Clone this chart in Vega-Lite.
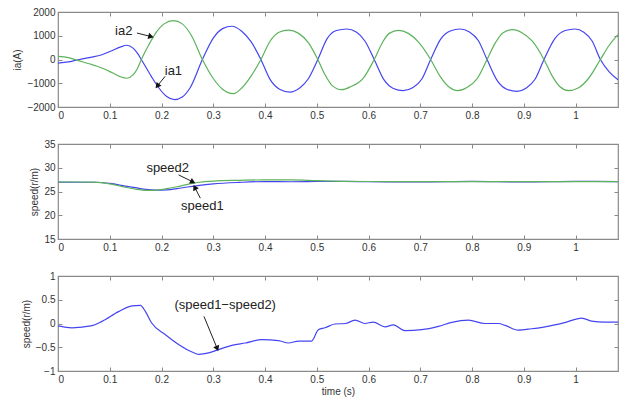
{
  "$schema": "https://vega.github.io/schema/vega-lite/v6.json",
  "background": "white",
  "padding": {"left": 12, "top": 6, "right": 5, "bottom": 1},
  "spacing": 37,
  "bounds": "flush",
  "config": {
    "font": "Liberation Sans",
    "view": {"stroke": "#8a8a8a", "strokeWidth": 1.2},
    "axis": {"domain": false, "grid": false, "tickColor": "#8a8a8a", "tickSize": -4, "tickWidth": 1, "labelFontSize": 10, "labelColor": "#333333", "titleFontSize": 10, "titleFontWeight": "normal", "titleColor": "#333333", "labelPadding": 7, "titlePadding": 4}
  },
  "datasets": {
    "ia": [
      {"s":"ia1","t":0,"v":-150},{"s":"ia1","t":0.02,"v":-100},{"s":"ia1","t":0.035,"v":-30},{"s":"ia1","t":0.06,"v":80},{"s":"ia1","t":0.085,"v":200},{"s":"ia1","t":0.105,"v":380},{"s":"ia1","t":0.12,"v":520},{"s":"ia1","t":0.133,"v":600},{"s":"ia1","t":0.145,"v":480},{"s":"ia1","t":0.153,"v":280},{"s":"ia1","t":0.161,"v":0},{"s":"ia1","t":0.18,"v":-700},{"s":"ia1","t":0.195,"v":-1200},{"s":"ia1","t":0.21,"v":-1560},{"s":"ia1","t":0.225,"v":-1690},{"s":"ia1","t":0.24,"v":-1580},{"s":"ia1","t":0.255,"v":-1200},{"s":"ia1","t":0.279,"v":0},{"s":"ia1","t":0.3,"v":900},{"s":"ia1","t":0.318,"v":1300},{"s":"ia1","t":0.336,"v":1400},{"s":"ia1","t":0.355,"v":1190},{"s":"ia1","t":0.373,"v":750},{"s":"ia1","t":0.392,"v":0},{"s":"ia1","t":0.41,"v":-850},{"s":"ia1","t":0.428,"v":-1250},{"s":"ia1","t":0.448,"v":-1370},{"s":"ia1","t":0.467,"v":-1200},{"s":"ia1","t":0.484,"v":-800},{"s":"ia1","t":0.502,"v":0},{"s":"ia1","t":0.52,"v":880},{"s":"ia1","t":0.538,"v":1220},{"s":"ia1","t":0.558,"v":1285},{"s":"ia1","t":0.577,"v":1150},{"s":"ia1","t":0.593,"v":780},{"s":"ia1","t":0.611,"v":0},{"s":"ia1","t":0.63,"v":-860},{"s":"ia1","t":0.648,"v":-1220},{"s":"ia1","t":0.667,"v":-1310},{"s":"ia1","t":0.686,"v":-1180},{"s":"ia1","t":0.703,"v":-820},{"s":"ia1","t":0.72,"v":0},{"s":"ia1","t":0.74,"v":880},{"s":"ia1","t":0.758,"v":1200},{"s":"ia1","t":0.777,"v":1285},{"s":"ia1","t":0.795,"v":1160},{"s":"ia1","t":0.812,"v":800},{"s":"ia1","t":0.829,"v":0},{"s":"ia1","t":0.849,"v":-900},{"s":"ia1","t":0.867,"v":-1250},{"s":"ia1","t":0.887,"v":-1340},{"s":"ia1","t":0.905,"v":-1200},{"s":"ia1","t":0.922,"v":-820},{"s":"ia1","t":0.939,"v":0},{"s":"ia1","t":0.96,"v":880},{"s":"ia1","t":0.98,"v":1220},{"s":"ia1","t":0.999,"v":1285},{"s":"ia1","t":1.016,"v":1150},{"s":"ia1","t":1.032,"v":780},{"s":"ia1","t":1.048,"v":0},{"s":"ia1","t":1.065,"v":-520},{"s":"ia1","t":1.082,"v":-850},
      {"s":"ia2","t":0,"v":135},{"s":"ia2","t":0.02,"v":80},{"s":"ia2","t":0.04,"v":-50},{"s":"ia2","t":0.06,"v":-180},{"s":"ia2","t":0.085,"v":-360},{"s":"ia2","t":0.105,"v":-560},{"s":"ia2","t":0.12,"v":-720},{"s":"ia2","t":0.133,"v":-790},{"s":"ia2","t":0.145,"v":-650},{"s":"ia2","t":0.153,"v":-400},{"s":"ia2","t":0.161,"v":0},{"s":"ia2","t":0.175,"v":600},{"s":"ia2","t":0.19,"v":1150},{"s":"ia2","t":0.205,"v":1500},{"s":"ia2","t":0.223,"v":1635},{"s":"ia2","t":0.24,"v":1500},{"s":"ia2","t":0.258,"v":1000},{"s":"ia2","t":0.279,"v":0},{"s":"ia2","t":0.3,"v":-800},{"s":"ia2","t":0.318,"v":-1250},{"s":"ia2","t":0.339,"v":-1440},{"s":"ia2","t":0.355,"v":-1200},{"s":"ia2","t":0.373,"v":-700},{"s":"ia2","t":0.392,"v":0},{"s":"ia2","t":0.41,"v":780},{"s":"ia2","t":0.427,"v":1150},{"s":"ia2","t":0.445,"v":1240},{"s":"ia2","t":0.465,"v":1100},{"s":"ia2","t":0.484,"v":700},{"s":"ia2","t":0.502,"v":0},{"s":"ia2","t":0.515,"v":-600},{"s":"ia2","t":0.53,"v":-1100},{"s":"ia2","t":0.548,"v":-1270},{"s":"ia2","t":0.565,"v":-1150},{"s":"ia2","t":0.59,"v":-780},{"s":"ia2","t":0.611,"v":0},{"s":"ia2","t":0.628,"v":760},{"s":"ia2","t":0.64,"v":1100},{"s":"ia2","t":0.658,"v":1230},{"s":"ia2","t":0.677,"v":1100},{"s":"ia2","t":0.697,"v":720},{"s":"ia2","t":0.72,"v":0},{"s":"ia2","t":0.738,"v":-700},{"s":"ia2","t":0.755,"v":-1150},{"s":"ia2","t":0.772,"v":-1310},{"s":"ia2","t":0.79,"v":-1180},{"s":"ia2","t":0.81,"v":-800},{"s":"ia2","t":0.829,"v":0},{"s":"ia2","t":0.845,"v":700},{"s":"ia2","t":0.86,"v":1130},{"s":"ia2","t":0.878,"v":1255},{"s":"ia2","t":0.897,"v":1120},{"s":"ia2","t":0.917,"v":760},{"s":"ia2","t":0.939,"v":0},{"s":"ia2","t":0.955,"v":-700},{"s":"ia2","t":0.97,"v":-1150},{"s":"ia2","t":0.986,"v":-1310},{"s":"ia2","t":1.005,"v":-1200},{"s":"ia2","t":1.025,"v":-800},{"s":"ia2","t":1.048,"v":0},{"s":"ia2","t":1.065,"v":600},{"s":"ia2","t":1.082,"v":1045}
    ],
    "speed": [
      {"s":"speed1","t":0,"v":26.97},{"s":"speed1","t":0.05,"v":26.95},{"s":"speed1","t":0.07,"v":26.95},{"s":"speed1","t":0.1,"v":26.7},{"s":"speed1","t":0.13,"v":26.15},{"s":"speed1","t":0.15,"v":25.8},{"s":"speed1","t":0.17,"v":25.45},{"s":"speed1","t":0.19,"v":25.3},{"s":"speed1","t":0.21,"v":25.35},{"s":"speed1","t":0.23,"v":25.6},{"s":"speed1","t":0.25,"v":25.95},{"s":"speed1","t":0.27,"v":26.25},{"s":"speed1","t":0.3,"v":26.6},{"s":"speed1","t":0.35,"v":26.92},{"s":"speed1","t":0.4,"v":27.1},{"s":"speed1","t":0.45,"v":27.05},{"s":"speed1","t":0.5,"v":27.1},{"s":"speed1","t":0.55,"v":27.12},{"s":"speed1","t":0.6,"v":27.08},{"s":"speed1","t":0.7,"v":27.0},{"s":"speed1","t":0.8,"v":27.12},{"s":"speed1","t":0.9,"v":27.0},{"s":"speed1","t":1.0,"v":27.12},{"s":"speed1","t":1.082,"v":27.1},
      {"s":"speed2","t":0,"v":27.0},{"s":"speed2","t":0.05,"v":27.0},{"s":"speed2","t":0.07,"v":26.98},{"s":"speed2","t":0.1,"v":26.6},{"s":"speed2","t":0.13,"v":25.9},{"s":"speed2","t":0.15,"v":25.5},{"s":"speed2","t":0.17,"v":25.25},{"s":"speed2","t":0.19,"v":25.3},{"s":"speed2","t":0.21,"v":25.6},{"s":"speed2","t":0.23,"v":26.0},{"s":"speed2","t":0.25,"v":26.5},{"s":"speed2","t":0.27,"v":26.9},{"s":"speed2","t":0.3,"v":27.2},{"s":"speed2","t":0.35,"v":27.35},{"s":"speed2","t":0.4,"v":27.45},{"s":"speed2","t":0.45,"v":27.45},{"s":"speed2","t":0.5,"v":27.3},{"s":"speed2","t":0.55,"v":27.15},{"s":"speed2","t":0.6,"v":27.1},{"s":"speed2","t":0.7,"v":27.1},{"s":"speed2","t":0.8,"v":27.1},{"s":"speed2","t":0.9,"v":27.1},{"s":"speed2","t":1.0,"v":27.1},{"s":"speed2","t":1.082,"v":27.1}
    ],
    "diff": [
      {"t":0,"v":-0.05},{"t":0.027,"v":-0.09},{"t":0.066,"v":-0.045},{"t":0.085,"v":0.045},{"t":0.117,"v":0.25},{"t":0.143,"v":0.37},{"t":0.159,"v":0.38},{"t":0.169,"v":0.25},{"t":0.181,"v":0.01},{"t":0.207,"v":-0.23},{"t":0.233,"v":-0.44},{"t":0.259,"v":-0.6},{"t":0.272,"v":-0.65},{"t":0.291,"v":-0.62},{"t":0.31,"v":-0.55},{"t":0.336,"v":-0.46},{"t":0.362,"v":-0.41},{"t":0.394,"v":-0.34},{"t":0.426,"v":-0.36},{"t":0.445,"v":-0.41},{"t":0.465,"v":-0.37},{"t":0.49,"v":-0.37},{"t":0.503,"v":-0.13},{"t":0.516,"v":-0.09},{"t":0.535,"v":-0.01},{"t":0.555,"v":0.0},{"t":0.574,"v":0.07},{"t":0.593,"v":0.0},{"t":0.609,"v":0.03},{"t":0.632,"v":-0.07},{"t":0.648,"v":-0.03},{"t":0.67,"v":-0.15},{"t":0.703,"v":-0.13},{"t":0.735,"v":-0.06},{"t":0.761,"v":0.025},{"t":0.793,"v":0.07},{"t":0.825,"v":0.0},{"t":0.851,"v":0.0},{"t":0.864,"v":-0.04},{"t":0.889,"v":-0.14},{"t":0.915,"v":-0.11},{"t":0.941,"v":-0.07},{"t":0.979,"v":0.02},{"t":1.012,"v":0.115},{"t":1.031,"v":0.05},{"t":1.056,"v":0.03},{"t":1.082,"v":0.03}
    ],
    "notes": [
      {"p":"ia","label":"ia2","t":0.127,"v":1200,"t1":0.1525,"v1":1115,"t2":0.178,"v2":975},
      {"p":"ia","label":"ia1","t":0.223,"v":-470,"t1":0.207,"v1":-707,"t2":0.193,"v2":-1086},
      {"p":"sp","label":"speed2","t":0.212,"v":29.9,"t1":0.233,"v1":28.5,"t2":0.259,"v2":27.1},
      {"p":"sp","label":"speed1","t":0.279,"v":22.0,"t1":0.275,"v1":23.6,"t2":0.265,"v2":25.7},
      {"p":"df","label":"(speed1−speed2)","t":0.323,"v":0.39,"t1":0.282,"v1":0.15,"t2":0.307,"v2":-0.51}
    ]
  },
  "vconcat": [
    {
      "width": 560, "height": 95,
      "resolve": {"axis": {"x": "independent", "y": "independent"}},
      "layer": [
        {
          "data": {"name": "ia"},
          "mark": {"type": "line", "strokeWidth": 1.2, "interpolate": "monotone"},
          "encoding": {
            "x": {"field": "t", "type": "quantitative", "scale": {"domain": [0, 1.082], "nice": false}, "axis": {"values": [0,0.1,0.2,0.3,0.4,0.5,0.6,0.7,0.8,0.9,1], "format": "~g", "title": null}},
            "y": {"field": "v", "type": "quantitative", "scale": {"domain": [-2000, 2000], "nice": false}, "axis": {"values": [-2000,-1000,0,1000,2000], "format": "d", "title": "ia(A)"}},
            "color": {"field": "s", "type": "nominal", "scale": {"domain": ["ia1","ia2"], "range": ["#4545f0","#5cb35c"]}, "legend": null}
          }
        },
        {
          "data": {"name": "ia"},
          "mark": {"type": "point", "opacity": 0},
          "encoding": {
            "x": {"field": "t", "type": "quantitative", "axis": {"orient": "top", "labels": false, "values": [0,0.1,0.2,0.3,0.4,0.5,0.6,0.7,0.8,0.9,1], "title": null}},
            "y": {"field": "v", "type": "quantitative", "axis": {"orient": "right", "labels": false, "values": [-2000,-1000,0,1000,2000], "title": null}}
          }
        },
        {
          "data": {"name": "notes"},
          "transform": [{"filter": "datum.p == 'ia'"}],
          "mark": {"type": "text", "fontSize": 13, "color": "#222222"},
          "encoding": {"x": {"field": "t", "type": "quantitative", "axis": null}, "y": {"field": "v", "type": "quantitative", "axis": null}, "text": {"field": "label"}}
        },
        {
          "data": {"name": "notes"},
          "transform": [{"filter": "datum.p == 'ia'"}],
          "mark": {"type": "rule", "color": "#222222", "strokeWidth": 1},
          "encoding": {"x": {"field": "t1", "type": "quantitative", "axis": null}, "y": {"field": "v1", "type": "quantitative", "axis": null}, "x2": {"field": "t2"}, "y2": {"field": "v2"}}
        },
        {
          "data": {"name": "notes"},
          "transform": [{"filter": "datum.label == 'ia2'"}],
          "mark": {"type": "point", "shape": "triangle", "filled": true, "size": 40, "angle": 104, "color": "#111111", "opacity": 1},
          "encoding": {"x": {"field": "t2", "type": "quantitative", "axis": null}, "y": {"field": "v2", "type": "quantitative", "axis": null}}
        },
        {
          "data": {"name": "notes"},
          "transform": [{"filter": "datum.label == 'ia1'"}],
          "mark": {"type": "point", "shape": "triangle", "filled": true, "size": 40, "angle": 219, "color": "#111111", "opacity": 1},
          "encoding": {"x": {"field": "t2", "type": "quantitative", "axis": null}, "y": {"field": "v2", "type": "quantitative", "axis": null}}
        }
      ]
    },
    {
      "width": 560, "height": 95,
      "resolve": {"axis": {"x": "independent", "y": "independent"}},
      "layer": [
        {
          "data": {"name": "speed"},
          "mark": {"type": "line", "strokeWidth": 1.2, "interpolate": "monotone"},
          "encoding": {
            "x": {"field": "t", "type": "quantitative", "scale": {"domain": [0, 1.082], "nice": false}, "axis": {"values": [0,0.1,0.2,0.3,0.4,0.5,0.6,0.7,0.8,0.9,1], "format": "~g", "title": null}},
            "y": {"field": "v", "type": "quantitative", "scale": {"domain": [15, 35], "nice": false}, "axis": {"values": [15,20,25,30,35], "format": "d", "title": "speed(r/m)"}},
            "color": {"field": "s", "type": "nominal", "scale": {"domain": ["speed1","speed2"], "range": ["#4545f0","#5cb35c"]}, "legend": null}
          }
        },
        {
          "data": {"name": "speed"},
          "mark": {"type": "point", "opacity": 0},
          "encoding": {
            "x": {"field": "t", "type": "quantitative", "axis": {"orient": "top", "labels": false, "values": [0,0.1,0.2,0.3,0.4,0.5,0.6,0.7,0.8,0.9,1], "title": null}},
            "y": {"field": "v", "type": "quantitative", "axis": {"orient": "right", "labels": false, "values": [15,20,25,30,35], "title": null}}
          }
        },
        {
          "data": {"name": "notes"},
          "transform": [{"filter": "datum.p == 'sp'"}],
          "mark": {"type": "text", "fontSize": 13, "color": "#222222"},
          "encoding": {"x": {"field": "t", "type": "quantitative", "axis": null}, "y": {"field": "v", "type": "quantitative", "axis": null}, "text": {"field": "label"}}
        },
        {
          "data": {"name": "notes"},
          "transform": [{"filter": "datum.p == 'sp'"}],
          "mark": {"type": "rule", "color": "#222222", "strokeWidth": 1},
          "encoding": {"x": {"field": "t1", "type": "quantitative", "axis": null}, "y": {"field": "v1", "type": "quantitative", "axis": null}, "x2": {"field": "t2"}, "y2": {"field": "v2"}}
        },
        {
          "data": {"name": "notes"},
          "transform": [{"filter": "datum.label == 'speed2'"}],
          "mark": {"type": "point", "shape": "triangle", "filled": true, "size": 40, "angle": 117, "color": "#111111", "opacity": 1},
          "encoding": {"x": {"field": "t2", "type": "quantitative", "axis": null}, "y": {"field": "v2", "type": "quantitative", "axis": null}}
        },
        {
          "data": {"name": "notes"},
          "transform": [{"filter": "datum.label == 'speed1'"}],
          "mark": {"type": "point", "shape": "triangle", "filled": true, "size": 40, "angle": 333, "color": "#111111", "opacity": 1},
          "encoding": {"x": {"field": "t2", "type": "quantitative", "axis": null}, "y": {"field": "v2", "type": "quantitative", "axis": null}}
        }
      ]
    },
    {
      "width": 560, "height": 95,
      "resolve": {"axis": {"x": "independent", "y": "independent"}},
      "layer": [
        {
          "data": {"name": "diff"},
          "mark": {"type": "line", "strokeWidth": 1.2, "color": "#4545f0", "interpolate": "monotone"},
          "encoding": {
            "x": {"field": "t", "type": "quantitative", "scale": {"domain": [0, 1.082], "nice": false}, "axis": {"values": [0,0.1,0.2,0.3,0.4,0.5,0.6,0.7,0.8,0.9,1], "format": "~g", "title": "time (s)", "titlePadding": 2}},
            "y": {"field": "v", "type": "quantitative", "scale": {"domain": [-1, 1], "nice": false}, "axis": {"values": [-1,-0.5,0,0.5,1], "format": "~g", "title": "speed(r/m)"}}
          }
        },
        {
          "data": {"name": "diff"},
          "mark": {"type": "point", "opacity": 0},
          "encoding": {
            "x": {"field": "t", "type": "quantitative", "axis": {"orient": "top", "labels": false, "values": [0,0.1,0.2,0.3,0.4,0.5,0.6,0.7,0.8,0.9,1], "title": null}},
            "y": {"field": "v", "type": "quantitative", "axis": {"orient": "right", "labels": false, "values": [-1,-0.5,0,0.5,1], "title": null}}
          }
        },
        {
          "data": {"name": "notes"},
          "transform": [{"filter": "datum.p == 'df'"}],
          "mark": {"type": "text", "fontSize": 13, "color": "#222222"},
          "encoding": {"x": {"field": "t", "type": "quantitative", "axis": null}, "y": {"field": "v", "type": "quantitative", "axis": null}, "text": {"field": "label"}}
        },
        {
          "data": {"name": "notes"},
          "transform": [{"filter": "datum.p == 'df'"}],
          "mark": {"type": "rule", "color": "#222222", "strokeWidth": 1},
          "encoding": {"x": {"field": "t1", "type": "quantitative", "axis": null}, "y": {"field": "v1", "type": "quantitative", "axis": null}, "x2": {"field": "t2"}, "y2": {"field": "v2"}}
        },
        {
          "data": {"name": "notes"},
          "transform": [{"filter": "datum.p == 'df'"}],
          "mark": {"type": "point", "shape": "triangle", "filled": true, "size": 40, "angle": 158, "color": "#111111", "opacity": 1},
          "encoding": {"x": {"field": "t2", "type": "quantitative", "axis": null}, "y": {"field": "v2", "type": "quantitative", "axis": null}}
        }
      ]
    }
  ]
}
